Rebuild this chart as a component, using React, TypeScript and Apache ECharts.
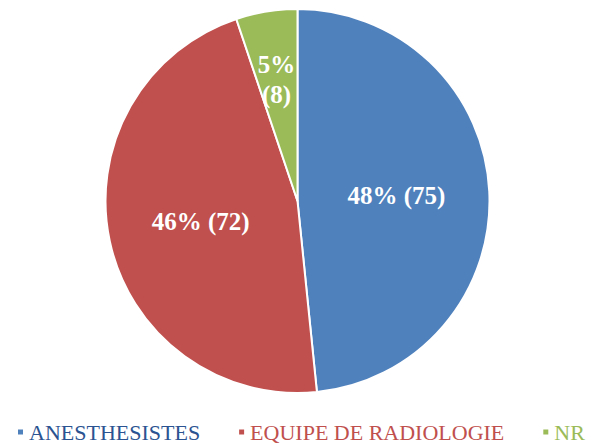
import React, { useEffect, useRef } from "react";
import * as echarts from "echarts";

const categories = ["ANESTHESISTES", "EQUIPE DE RADIOLOGIE", "NR"];
const values = [75, 72, 8];
const sliceColors = ["#4F81BD", "#C0504D", "#9BBB59"];
const legendTextColors = ["#2B5391", "#C0504D", "#9BBB59"];

export default function App() {
  const ref = useRef<HTMLDivElement>(null);
  useEffect(() => {
    if (!ref.current) return;
    const chart = echarts.init(ref.current, null, { renderer: "svg" });
    const total = values.reduce((a, b) => a + b, 0);
    const data = categories.map((name, i) => {
      const pct = Math.round((values[i] / total) * 100);
      const item: any = {
        name,
        value: values[i],
        itemStyle: { color: sliceColors[i] },
        label: {
          formatter: i === 2 ? `${pct}%\n(${values[i]})` : `${pct}% (${values[i]})`,
        },
      };
      if (i === 2) {
        item.label.offset = [-5, -24];
        item.label.lineHeight = 30;
      }
      return item;
    });
    chart.setOption({
      animation: false,
      backgroundColor: "#ffffff",
      legend: {
        top: 421,
        left: 16,
        padding: 0,
        orient: "horizontal",
        icon: "rect",
        itemWidth: 7,
        itemHeight: 7,
        itemGap: 37,
        data: categories.map((name, i) => ({
          name,
          textStyle: { color: legendTextColors[i] },
        })),
        textStyle: {
          fontFamily: "Liberation Serif",
          fontSize: 22,
          lineHeight: 22,
        },
      },
      series: [
        {
          type: "pie",
          center: [297.5, 201],
          radius: 192,
          startAngle: 90,
          clockwise: true,
          data,
          itemStyle: { borderColor: "#ffffff", borderWidth: 2 },
          label: {
            show: true,
            position: "inside",
            color: "#ffffff",
            fontFamily: "Liberation Serif",
            fontWeight: "bold",
            fontSize: 25,
          },
          labelLine: { show: false },
          emphasis: { disabled: true },
        },
      ],
    });
    return () => chart.dispose();
  }, []);
  return (
    <div
      ref={ref}
      style={{ position: "absolute", left: 0, top: 0, width: 589, height: 443 }}
    />
  );
}
